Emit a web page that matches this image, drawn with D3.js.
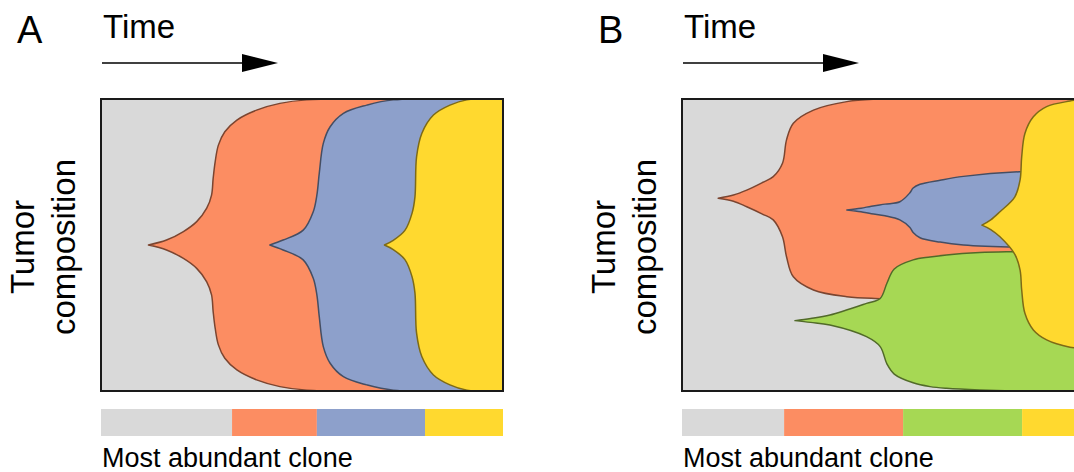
<!DOCTYPE html>
<html>
<head>
<meta charset="utf-8">
<script src="https://cdn.jsdelivr.net/npm/d3@7"></script>
<style>
body { margin: 0; background: #fff; }
text { font-family: "Liberation Sans", Arial, Helvetica, sans-serif; fill: #000; }
</style>
</head>
<body>
<script>
// clone outlines: [time, lower, upper]  (time 0-100, composition 0-100)
var orangeA = [[11.8,50,50],[16.3,48.3,51.7],[20.5,45.4,54.6],[23.8,42.0,58.0],[26.3,37.4,62.6],[27.5,32.9,67.1],
	[27.9,27.2,72.8],[28.4,21.5,78.5],[29.2,15.8,84.2],[30.8,11.2,88.8],[33.8,7.2,92.8],[38.7,3.8,96.2],
	[44.5,1.5,98.5],[51.2,0.3,99.7],[100,0,100]];
var blueA = [[42.0,50,50],[45.3,48.3,51.7],[50.3,44.9,55.1],[52.8,38.6,61.4],[53.7,32.9,67.1],[54.3,25.4,74.6],
	[55.3,15.2,84.8],[57.0,9.5,90.5],[60.3,4.9,95.1],[66.1,2.1,97.9],[72.7,0.3,99.7],[100,0,100]];
var yellowA = [[70.5,50,50],[72.6,48.5,51.5],[75.6,45.0,55.0],[77.4,39.0,61.0],[78.1,33.5,66.5],[78.5,19.8,80.2],
	[79.8,11.8,88.2],[82.7,5.5,94.5],[86.8,2.1,97.9],[91.0,0.3,99.7],[100,0,100]];

var orangeB = [[9.0,66.0,66.0],[12.8,65.0,67.1],[16.1,63.1,68.8],[20.0,60.6,71.4],[22.7,58.6,73.4],[25.0,52.8,78.0],
	[26.0,46.0,86.0],[27.7,39.1,91.7],[32.7,34.6,96.2],[41.0,32.3,99.1],[48.0,31.7,99.9],[100,31.7,100]];
var greenB = [[28.1,24.1,24.1],[32.0,23.5,24.8],[36.8,22.6,26.0],[45.9,18.6,30.0],[49.3,15.2,31.7],[51.0,9.2,37.0],
	[52.8,5.8,41.8],[57.5,2.8,44.9],[61.7,1.5,45.9],[65.8,0.9,46.6],[74.1,0.3,47.4],[82.3,0,47.7],[100,0,48.0]];
var blueB = [[41.0,62.0,62.0],[44.5,61.4,62.6],[47.1,60.7,63.3],[50.5,60.0,64.0],[54.2,58.6,64.8],[56.7,56.0,67.9],
	[57.5,54.3,69.5],[59.2,52.5,70.8],[64.2,51.0,72.2],[70.0,50.0,73.5],[84.0,49.2,75.1],[100,49.1,75.3]];
var yellowB = [[74.6,56.8,56.8],[76.8,55.3,58.6],[79.1,52.8,61.4],[82.8,46.8,66.5],[84.1,41.4,72.3],[84.5,34.6,80.2],
	[85.3,26.6,88.2],[87.4,20.9,93.9],[90.7,17.5,97.4],[96.5,15.0,99.3],[100,14.5,100]];

// most abundant clone over time
var legendBreaksA = [0, 32.6, 53.7, 80.6, 100],
	legendClonesA = ["normal", "orange", "blue", "yellow"];
var legendBreaksB = [0, 25.4, 55.0, 84.6, 100],
	legendClonesB = ["normal", "orange", "green", "yellow"];

var colors = { normal: "#d9d9d9", orange: "#fc8d62", blue: "#8da0cb", yellow: "#ffd92f", green: "#a6d854" };

var width = 1074, height = 472,
	box = { left: 101, top: 99, width: 402, height: 292 },
	panelShift = 581;

var panels = [
	{ id: "A", clones: [["orange", orangeA], ["blue", blueA], ["yellow", yellowA]], breaks: legendBreaksA, legend: legendClonesA },
	{ id: "B", clones: [["orange", orangeB], ["green", greenB], ["blue", blueB], ["yellow", yellowB]], breaks: legendBreaksB, legend: legendClonesB }
];

var svg = d3.select("body").append("svg")
	.attr("width", width)
	.attr("height", height);

var x = d3.scaleLinear().domain([0, 100]).range([0, box.width]);
var y = d3.scaleLinear().domain([0, 100]).range([box.height, 0]);

var area = d3.area()
	.x(function(d) { return x(d[0]); })
	.y0(function(d) { return y(d[1]); })
	.y1(function(d) { return y(d[2]); })
	.curve(d3.curveCatmullRom.alpha(0.5));

panels.forEach(function(p, pi) {
	var g = svg.append("g")
		.attr("transform", "translate(" + (box.left + pi * panelShift) + "," + box.top + ")");

	g.append("clipPath").attr("id", "clip" + p.id)
		.append("rect").attr("width", box.width).attr("height", box.height);

	g.append("text").text(p.id)
		.attr("x", -84).attr("y", -56)
		.style("font-size", "38px");

	g.append("text").text("Time")
		.attr("x", 2).attr("y", -61)
		.style("font-size", "33px");

	// time arrow
	g.append("line")
		.attr("x1", 1).attr("x2", 145)
		.attr("y1", -36).attr("y2", -36)
		.attr("stroke", "#000").attr("stroke-width", 1.6);
	g.append("path")
		.attr("d", "M141,-45L177,-36L141,-27Z")
		.attr("fill", "#000");

	g.append("text")
		.attr("transform", "translate(-67," + (box.height / 2 + 2) + ") rotate(-90)")
		.style("text-anchor", "middle").style("font-size", "33px")
		.text("Tumor");
	g.append("text")
		.attr("transform", "translate(-26," + (box.height / 2 + 2) + ") rotate(-90)")
		.style("text-anchor", "middle").style("font-size", "33px")
		.text("composition");

	var plot = g.append("g").attr("clip-path", "url(#clip" + p.id + ")");

	plot.append("rect")
		.attr("width", box.width).attr("height", box.height)
		.attr("fill", colors.normal);

	plot.selectAll(".clone")
		.data(p.clones)
		.enter().append("path")
		.attr("class", "clone")
		.attr("d", function(d) { return area(d[1]); })
		.attr("fill", function(d) { return colors[d[0]]; })
		.attr("stroke", function(d) { return d3.color(colors[d[0]]).darker(2); })
		.attr("stroke-width", 1.5)
		.attr("stroke-linejoin", "round");

	g.append("rect")
		.attr("width", box.width).attr("height", box.height)
		.attr("fill", "none")
		.attr("stroke", "#1a1a1a").attr("stroke-width", 2);

	// most abundant clone strip
	g.selectAll(".legend")
		.data(p.legend)
		.enter().append("rect")
		.attr("class", "legend")
		.attr("x", function(d, i) { return x(p.breaks[i]); })
		.attr("y", box.height + 18)
		.attr("width", function(d, i) { return x(p.breaks[i + 1]) - x(p.breaks[i]); })
		.attr("height", 27)
		.attr("fill", function(d) { return colors[d]; });

	g.append("text").text("Most abundant clone")
		.attr("x", 1).attr("y", box.height + 76)
		.style("font-size", "27px");
});
</script>
</body>
</html>
